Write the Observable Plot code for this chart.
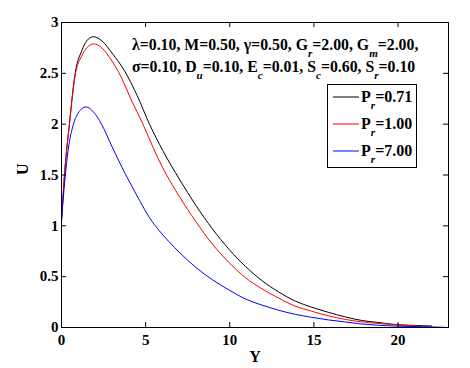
<!DOCTYPE html>
<html>
<head>
<meta charset="utf-8">
<script src="https://cdn.jsdelivr.net/npm/d3@7"></script>
<script src="https://cdn.jsdelivr.net/npm/@observablehq/plot@0.6"></script>
<style>
  html, body { margin: 0; padding: 0; background: #fff; }
  #chart { width: 470px; height: 368px; }
</style>
</head>
<body>
<div id="chart"></div>
<script>
// ---- data ----
const xTicks = [0, 5, 10, 15, 20];
const yTicks = [0, 0.5, 1, 1.5, 2, 2.5, 3];
const seriesNames = ["0.71", "1.00", "7.00"];
const seriesColors = ["#000000", "#ff0000", "#0000ff"];

const xPr071 = [0, 0.2, 0.47, 0.81, 1.2, 1.5, 1.9, 2.4, 3.0, 3.76, 4.5, 5.23, 6.02, 7.0, 7.99, 8.97, 9.95, 10.94, 11.92, 12.9, 13.89, 14.87, 15.85, 16.84, 17.82, 18.8, 19.79, 21.0, 22.0];
const uPr071 = [1.05, 1.55, 2.0, 2.5, 2.72, 2.82, 2.86, 2.82, 2.70, 2.52, 2.28, 2.0, 1.74, 1.46, 1.20, 0.97, 0.77, 0.60, 0.46, 0.35, 0.26, 0.20, 0.15, 0.105, 0.07, 0.05, 0.03, 0.02, 0.015];

const xPr100 = [0, 0.2, 0.47, 0.81, 1.2, 1.5, 1.9, 2.4, 3.0, 3.37, 4.2, 4.84, 5.47, 6.02, 7.0, 7.99, 8.97, 9.95, 10.94, 11.92, 12.9, 13.89, 14.87, 15.85, 16.84, 17.82, 18.8, 19.79, 21.2];
const uPr100 = [1.05, 1.55, 2.0, 2.48, 2.67, 2.75, 2.79, 2.75, 2.62, 2.52, 2.22, 2.0, 1.76, 1.57, 1.29, 1.04, 0.82, 0.64, 0.49, 0.38, 0.29, 0.21, 0.16, 0.115, 0.08, 0.056, 0.04, 0.027, 0.015];

const xPr700 = [0, 0.2, 0.4, 0.71, 1.0, 1.46, 1.9, 2.38, 3.0, 3.7, 4.05, 4.64, 5.23, 5.82, 6.41, 7.0, 7.99, 8.97, 9.95, 10.94, 11.92, 12.9, 13.89, 14.87, 15.85, 16.84, 17.82, 18.8, 19.79, 21.75, 23.0];
const uPr700 = [1.05, 1.45, 1.75, 2.0, 2.11, 2.17, 2.12, 2.0, 1.78, 1.54, 1.43, 1.25, 1.08, 0.95, 0.84, 0.74, 0.59, 0.47, 0.37, 0.28, 0.22, 0.17, 0.13, 0.10, 0.075, 0.055, 0.035, 0.022, 0.014, 0.007, 0.0];

const seriesX = [xPr071, xPr100, xPr700];
const seriesU = [uPr071, uPr100, uPr700];

const rows = [];
seriesNames.forEach((name, i) => {
  seriesX[i].forEach((x, j) => rows.push({series: name, x, u: seriesU[i][j]}));
});

const W = 470, H = 368, mL = 61, mR = 22, mT = 22, mB = 41;
const fw = W - mL - mR, fh = H - mT - mB;
const FONT = "'Liberation Serif', 'Times New Roman', serif";

const chart = Plot.plot({
  width: W, height: H,
  marginLeft: mL, marginRight: mR, marginTop: mT, marginBottom: mB,
  style: {fontFamily: FONT, fontSize: "15px", fontWeight: "bold", color: "#000", background: "#fff"},
  x: {domain: [0, 23]},
  y: {domain: [0, 3]},
  color: {domain: seriesNames, range: seriesColors},
  marks: [
    Plot.line(rows, {x: "x", y: "u", z: "series", stroke: "series", strokeWidth: 1, curve: "monotone-x"}),
    Plot.frame({stroke: "#000", strokeWidth: 1}),
    Plot.tickX(xTicks, {x: d => d, insetTop: fh - 5, stroke: "#000"}),
    Plot.tickX(xTicks, {x: d => d, insetBottom: fh - 5, stroke: "#000"}),
    Plot.tickY(yTicks, {y: d => d, insetRight: fw - 5, stroke: "#000"}),
    Plot.tickY(yTicks, {y: d => d, insetLeft: fw - 5, stroke: "#000"}),
    Plot.axisX({ticks: xTicks, tickSize: 0, tickPadding: 7, tickFormat: d => String(d), label: null}),
    Plot.axisY({ticks: yTicks, tickSize: 0, tickPadding: 3, tickFormat: d => String(d), label: null}),
    Plot.text(["U"], {text: d => d, frameAnchor: "left", dx: -39, rotate: -90, fontSize: 16, lineAnchor: "middle"}),
    Plot.text(["Y"], {text: d => d, frameAnchor: "bottom", dy: 29, fontSize: 16, lineAnchor: "middle"})
  ]
});
document.getElementById("chart").appendChild(chart);

// ---- annotation and legend with subscripts ----
const svg = d3.select(chart);
const annLines = [
  [["λ=0.10, M=0.50, γ=0.50, G", ""], ["r", "sub"], ["=2.00, G", ""], ["m", "sub"], ["=2.00,", ""]],
  [["σ=0.10, D", ""], ["u", "sub"], ["=0.10, E", ""], ["c", "sub"], ["=0.01, S", ""], ["c", "sub"], ["=0.60, S", ""], ["r", "sub"], ["=0.10", ""]]
];
const annBaselines = [50, 72];
function richText(g, parts, x, y, size) {
  const t = g.append("text").attr("x", x).attr("y", y).attr("text-anchor", "start")
    .attr("font-family", FONT).attr("font-weight", "bold").attr("font-size", size).attr("fill", "#000");
  let low = false;
  parts.forEach(([s, kind]) => {
    if (kind === "sub") {
      t.append("tspan").attr("dy", 7).attr("font-size", size * 0.7).attr("font-style", "italic").text(s);
      low = true;
    } else {
      t.append("tspan").attr("dy", low ? -7 : 0).text(s);
      low = false;
    }
  });
  return t;
}
const ann = svg.append("g");
annLines.forEach((parts, i) => richText(ann, parts, 132, annBaselines[i], 15.8));

// legend
const lg = svg.append("g");
lg.append("rect").attr("x", 327.5).attr("y", 84.5).attr("width", 89).attr("height", 83)
  .attr("fill", "#fff").attr("stroke", "#000").attr("stroke-width", 1);
seriesNames.forEach((name, i) => {
  const cy = 97 + i * 27;
  lg.append("line").attr("x1", 333).attr("x2", 359).attr("y1", cy).attr("y2", cy)
    .attr("stroke", seriesColors[i]).attr("stroke-width", 1);
  richText(lg, [["P", ""], ["r", "sub"], ["=" + name, ""]], 361, cy + 5, 16);
});
</script>
</body>
</html>
